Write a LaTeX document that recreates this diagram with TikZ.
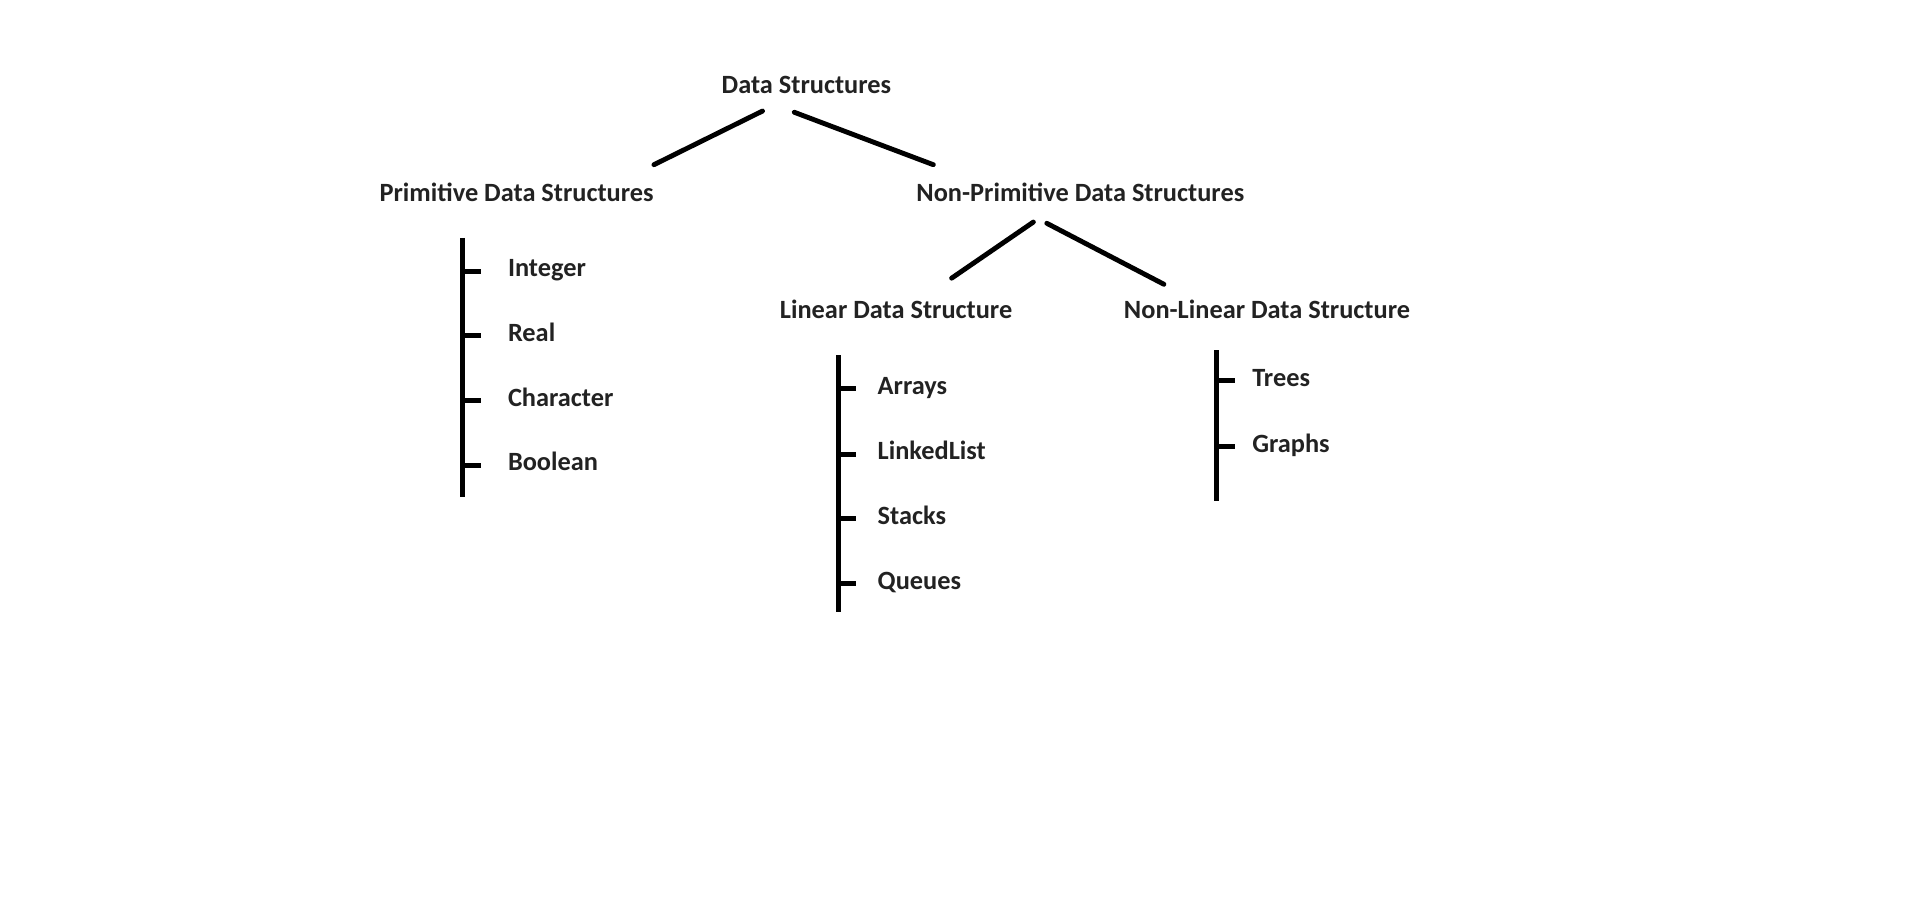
\documentclass[tikz,border=0pt]{standalone}
\usepackage{fontspec}
\setmainfont{Carlito}
\usepackage{xcolor}
\usepackage{tikz}
\definecolor{inkgray}{RGB}{34,34,34}

\begin{document}
\begin{tikzpicture}[x=0.5pt, y=-0.5pt,
        lbl/.style={inner sep=0pt, font=\fontsize{10.8}{13}\selectfont\bfseries, text=inkgray},
        head/.style={lbl, anchor=base},
        item/.style={lbl, anchor=base west},
        branch/.style={line width=2pt, line cap=round},
        bar/.style={line width=2pt},
        tick/.style={line width=2pt}]
        \useasboundingbox (0,0) rectangle (1568,735);

        % headings
        \node[head] (ds) at (661,77) {Data Structures};
        \node[head] (pds) at (423.5,165) {Primitive Data Structures};
        \node[head] (npds) at (885.5,165) {Non-Primitive Data Structures};
        \node[head] (lds) at (734.5,261) {Linear Data Structure};
        \node[head] (nlds) at (1038.5,261) {Non-Linear Data Structure};

        % branch ends
        \coordinate (ds-l) at (625,91);
        \coordinate (ds-r) at (651,92);
        \coordinate (pds-t) at (536,135);
        \coordinate (npds-t) at (765,135);
        \coordinate (npds-l) at (847,182);
        \coordinate (npds-r) at (858,183);
        \coordinate (lds-t) at (780,228);
        \coordinate (nlds-t) at (954,233);
        \draw[branch] (ds-l) -- (pds-t);
        \draw[branch] (ds-r) -- (npds-t);
        \draw[branch] (npds-l) -- (lds-t);
        \draw[branch] (npds-r) -- (nlds-t);

        % primitive
        \node[item] (int) at (416,227) {Integer};
        \node[item] (real) at (416,280) {Real};
        \node[item] (char) at (416,333) {Character};
        \node[item] (bool) at (416,386) {Boolean};
        \coordinate (pbar-top) at (379,195);
        \coordinate (pbar-bot) at (379,407);
        \draw[bar] (pbar-top) -- (pbar-bot);
        \foreach \n in {int,real,char,bool}
            \draw[tick] (pbar-top |- \n.mid west) -- ++(15,0);

        % linear
        \node[item] (arr) at (719,323) {Arrays};
        \node[item] (llist) at (719,377) {LinkedList};
        \node[item] (stk) at (719,430) {Stacks};
        \node[item] (que) at (719,483) {Queues};
        \coordinate (lbar-top) at (687,291);
        \coordinate (lbar-bot) at (687,502);
        \draw[bar] (lbar-top) -- (lbar-bot);
        \foreach \n in {arr,llist,stk,que}
            \draw[tick] (lbar-top |- \n.mid west) -- ++(15,0);

        % non-linear
        \node[item] (tree) at (1026,317) {Trees};
        \node[item] (graph) at (1026,371) {Graphs};
        \coordinate (nbar-top) at (997,287);
        \coordinate (nbar-bot) at (997,411);
        \draw[bar] (nbar-top) -- (nbar-bot);
        \foreach \n in {tree,graph}
            \draw[tick] (nbar-top |- \n.mid west) -- ++(15,0);
    \end{tikzpicture}
\end{document}
